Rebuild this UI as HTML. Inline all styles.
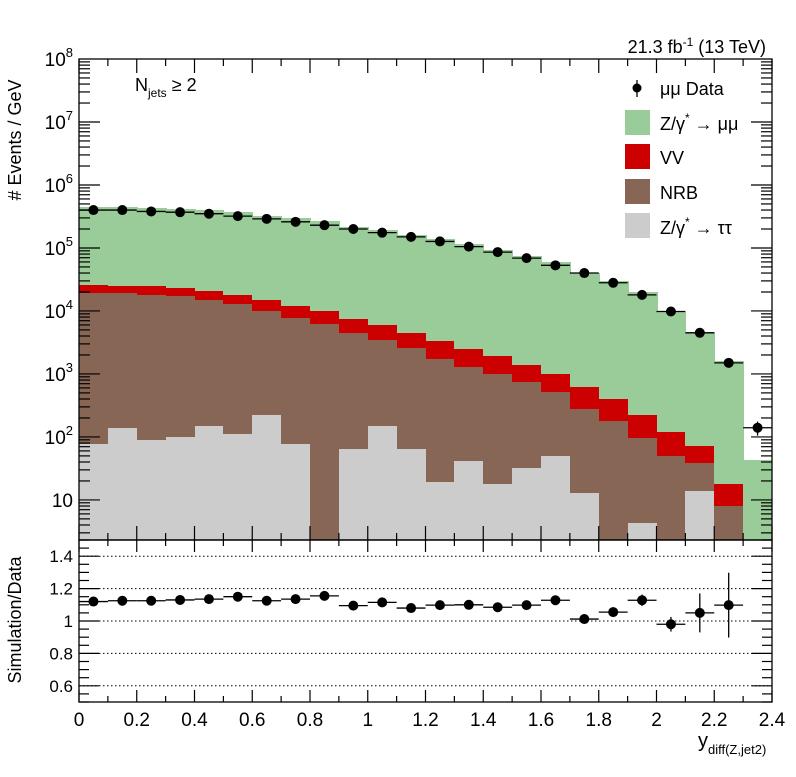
<!DOCTYPE html>
<html><head><meta charset="utf-8">
<style>
html,body{margin:0;padding:0;background:#fff;}
svg text{font-family:"Liberation Sans",sans-serif;fill:#000;}
</style></head>
<body>
<svg id="c" width="796" height="772" xmlns="http://www.w3.org/2000/svg"></svg>
<script>
// ---- data ----
const binEdges = [0,0.1,0.2,0.3,0.4,0.5,0.6,0.7,0.8,0.9,1.0,1.1,1.2,1.3,1.4,1.5,1.6,1.7,1.8,1.9,2.0,2.1,2.2,2.3,2.4];
const dataVals = [4.0e5,4.0e5,3.8e5,3.7e5,3.5e5,3.2e5,2.9e5,2.6e5,2.3e5,2.0e5,1.75e5,1.5e5,1.27e5,1.05e5,8.6e4,6.9e4,5.3e4,4.0e4,2.8e4,1.8e4,9.8e3,4.5e3,1.5e3,140];
const dataErr = [0,0,0,0,0,0,0,0,0,0,0,0,0,0,0,0,0,0,0,0,0,0,0,35];
const tautau = [76,140,89,100,150,110,220,76,0,65,150,65,19,41,18,32,49,13,0,4.3,0,14,0,0];
const nrb = [18924,18860,17911,16900,14850,12890,9780,7724,6300,4335,3250,2535,1681,1259,982,708,471,267,180,92,49,25,8.1,0];
const vv = [7000,6000,7000,6000,6000,5000,5000,4200,3700,3000,2500,1900,1600,1200,900,660,480,330,220,124,71,34,9.9,0];
const zmumu = [4.2e5,4.25e5,4.0e5,3.95e5,3.75e5,3.5e5,3.1e5,2.83e5,2.55e5,2.1e5,1.89e5,1.58e5,1.36e5,1.13e5,9.1e4,7.4e4,5.8e4,4.0e4,2.9e4,2.0e4,9.5e3,4.6e3,1.6e3,43];
const ratioVals = [1.12,1.125,1.125,1.13,1.135,1.15,1.125,1.135,1.155,1.095,1.115,1.08,1.098,1.10,1.085,1.098,1.128,1.012,1.055,1.128,0.98,1.05,1.098];
const ratioErr = [0,0,0,0,0,0,0,0,0,0,0,0,0,0,0,0,0.015,0.02,0.03,0.035,0.045,0.12,0.2];
const xTickLabels = ["0","0.2","0.4","0.6","0.8","1","1.2","1.4","1.6","1.8","2","2.2","2.4"];
const ratioTickLabels = ["0.6","0.8","1","1.2","1.4"];
const yDecades = [1,2,3,4,5,6,7,8];

// ---- geometry ----
const X0=79,X1=772, TOP=59, MB=540, RT=540, RB=702;
const yMinLog=Math.log10(2.31), yMaxLog=8;
const sx=v=>X0+(v-0)/(2.4-0)*(X1-X0);
const sy=v=>MB-(Math.log10(v)-yMinLog)/(yMaxLog-yMinLog)*(MB-TOP);
const sr=v=>RB-(v-0.5)/(1.0)*(RB-RT);
const svg=document.getElementById('c');
const NS='http://www.w3.org/2000/svg';
function el(tag,attrs,parent){const e=document.createElementNS(NS,tag);for(const k in attrs)e.setAttribute(k,attrs[k]);(parent||svg).appendChild(e);return e;}

const defs=el('defs',{});
const cp=el('clipPath',{id:'mc'},defs); el('rect',{x:X0,y:TOP,width:X1-X0,height:MB-TOP},cp);
const gMain=el('g',{'clip-path':'url(#mc)','shape-rendering':'crispEdges'});



for(let i=0;i<dataVals.length;i++){
  let s=0;
  const comps=[tautau[i],nrb[i],vv[i],zmumu[i]];
  const tops=[];for(const c of comps){s+=c;tops.push(s);}
  const order=[[3,'#99cc99','zmumu'],[2,'#cc0000','vv'],[1,'#886655','nrb'],[0,'#cccccc','tautau']];
  for(const [k,col,nm] of order){
    const t=tops[k]; if(t<=0) continue; if(k>0 && comps[k]<=0) continue;
    const y=Math.max(TOP,sy(t));
    const r=el('rect',{x:Math.round(sx(binEdges[i])),y:Math.round(y),width:Math.round(sx(binEdges[i+1]))-Math.round(sx(binEdges[i]))+1,height:Math.max(0,MB-Math.round(y)),fill:col},gMain);
    
    
  }
}
for(let i=0;i<dataVals.length;i++){
  const xc=sx((binEdges[i]+binEdges[i+1])/2), y=sy(dataVals[i]);
  el('line',{x1:sx(binEdges[i]),x2:sx(binEdges[i+1]),y1:y,y2:y,stroke:'#000','stroke-width':1.3});
  if(dataErr[i]>0) el('line',{x1:xc,x2:xc,y1:sy(dataVals[i]+dataErr[i]),y2:sy(dataVals[i]-dataErr[i]),stroke:'#000','stroke-width':1.3});
  const p=el('circle',{cx:xc,cy:y,r:5,fill:'#000'});
  
  
}
el('rect',{x:X0,y:TOP,width:X1-X0,height:MB-TOP,fill:'none',stroke:'#000','stroke-width':1.3});
el('rect',{x:X0,y:RT,width:X1-X0,height:RB-RT,fill:'none',stroke:'#000','stroke-width':1.3});

for(const d of yDecades){
  for(let m=1;m<10;m++){
    const v=m*Math.pow(10,d-1); if(v<2.31||v>1e8)continue;
    const y=sy(v), L=(m===1)?21:11;
    el('line',{x1:X0,x2:X0+L,y1:y,y2:y,stroke:'#000','stroke-width':1.2});
    el('line',{x1:X1,x2:X1-L,y1:y,y2:y,stroke:'#000','stroke-width':1.2});
  }
}
for(const d of yDecades){
  const y=sy(Math.pow(10,d));
  const t=el('text',{x:X0-6,y:y+7,'text-anchor':'end','font-size':19});
  
  
  if(d===1){t.textContent='10';}
  else{t.textContent='10';const s=el('tspan',{dy:-9,'font-size':13},t);s.textContent=String(d);}
}
for(let k=0;k<=48;k+=2){
  const v=k*0.05, x=sx(v), major=(k%4===0);
  const L2=major?14:7;
  el('line',{x1:x,x2:x,y1:MB,y2:MB-L2,stroke:'#000','stroke-width':1.2});
  el('line',{x1:x,x2:x,y1:TOP,y2:TOP+L2,stroke:'#000','stroke-width':1.2});
  el('line',{x1:x,x2:x,y1:RB,y2:RB-(major?12:6),stroke:'#000','stroke-width':1.2});
  el('line',{x1:x,x2:x,y1:RT,y2:RT+(major?12:6),stroke:'#000','stroke-width':1.2});
}
xTickLabels.forEach((lab,i)=>{
  const t=el('text',{x:sx(i*0.2),y:RB+24,'text-anchor':'middle','font-size':19});
  t.textContent=lab;
  
  
});
for(let k=0;k<=20;k++){
  const v=0.5+k*0.05; const y=sr(v); const major=(k%4===2);
  const L=major?20:10;
  el('line',{x1:X0,x2:X0+L,y1:y,y2:y,stroke:'#000','stroke-width':1.2});
  el('line',{x1:X1,x2:X1-L,y1:y,y2:y,stroke:'#000','stroke-width':1.2});
}
ratioTickLabels.forEach(lab=>{
  const v=parseFloat(lab), y=sr(v);
  el('line',{x1:X0,x2:X1,y1:y,y2:y,stroke:'#000','stroke-width':1,'stroke-dasharray':'1.5,2.5'});
  const t=el('text',{x:X0-6,y:y+6,'text-anchor':'end','font-size':17});
  t.textContent=lab;
  
  
});
ratioVals.forEach((v,i)=>{
  const xc=sx((binEdges[i]+binEdges[i+1])/2), y=sr(v);
  el('line',{x1:sx(binEdges[i]),x2:sx(binEdges[i+1]),y1:y,y2:y,stroke:'#000','stroke-width':1.3});
  if(ratioErr[i]>0) el('line',{x1:xc,x2:xc,y1:sr(v+ratioErr[i]),y2:sr(v-ratioErr[i]),stroke:'#000','stroke-width':1.3});
  const p=el('circle',{cx:xc,cy:y,r:5,fill:'#000'});
  
  
});
</script>
<svg width="796" height="772" style="position:absolute;left:0;top:0" xmlns="http://www.w3.org/2000/svg">
  <text x="21" y="140" font-size="18" text-anchor="middle" transform="rotate(-90 21 140)"># Events / GeV</text>
  <text x="21" y="620" font-size="18" text-anchor="middle" transform="rotate(-90 21 620)">Simulation/Data</text>
  <text x="698" y="747" font-size="20">y<tspan font-size="13" dy="7">diff(Z,jet2)</tspan></text>
  <text x="766" y="53" font-size="18" text-anchor="end">21.3 fb<tspan font-size="12" dy="-7">-1</tspan><tspan dy="7"> (13 TeV)</tspan></text>
  <text x="135" y="91" font-size="18">N<tspan font-size="12" dy="6">jets</tspan><tspan dy="-6"> ≥ 2</tspan></text>
  <g font-size="18">
    <g>
      <line x1="637" x2="637" y1="80" y2="97" stroke="#000" stroke-width="1.3"/>
      <circle cx="637" cy="88" r="4.5" fill="#000"/>
      <text x="660" y="95">μμ Data</text>
    </g>
    <g>
      <rect x="625" y="110" width="25" height="25" fill="#99cc99"/>
      <text x="660" y="130">Z/γ<tspan font-size="12" dy="-8">*</tspan><tspan dy="8"> → μμ</tspan></text>
    </g>
    <g>
      <rect x="625" y="144" width="25" height="25" fill="#cc0000"/>
      <text x="660" y="164">VV</text>
    </g>
    <g>
      <rect x="625" y="179" width="25" height="25" fill="#886655"/>
      <text x="660" y="199">NRB</text>
    </g>
    <g>
      <rect x="625" y="213" width="25" height="25" fill="#cccccc"/>
      <text x="660" y="234">Z/γ<tspan font-size="12" dy="-8">*</tspan><tspan dy="8"> → ττ</tspan></text>
    </g>
  </g>
</svg>
</body></html>
